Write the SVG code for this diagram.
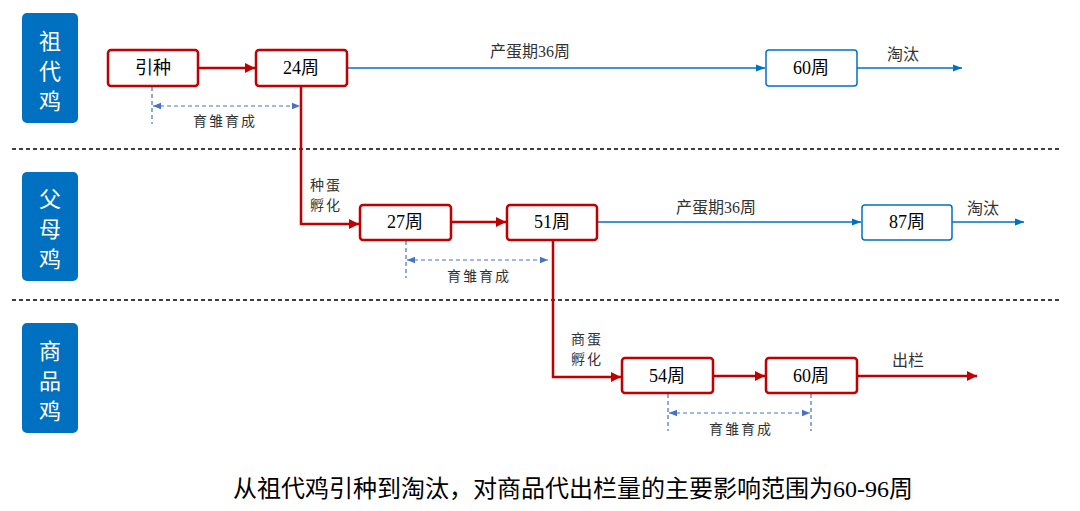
<svg xmlns="http://www.w3.org/2000/svg" width="1080" height="511" viewBox="0 0 1080 511">
<style>
.lbl{fill:#0070C0;}
.lt{font-family:"Liberation Serif","Noto Sans CJK SC",serif;font-size:22px;fill:#fff;text-anchor:middle;}
.rn{fill:#fff;stroke:#C00000;stroke-width:2.5;}
.bn{fill:#fff;stroke:#0070C0;stroke-width:1.5;}
.nt{font-family:"Liberation Serif","Noto Sans CJK SC",serif;font-size:18px;fill:#000;text-anchor:middle;dominant-baseline:central;}
.t{font-family:"Liberation Serif","Noto Sans CJK SC",serif;font-size:14px;fill:#333;text-anchor:middle;}
.t2{font-family:"Liberation Serif","Noto Sans CJK SC",serif;font-size:16px;fill:#333;text-anchor:middle;}
.sp{letter-spacing:2px;}
.red{fill:none;stroke:#C00000;stroke-width:2.5;}
.blue{fill:none;stroke:#0070C0;stroke-width:1.5;}
.dash{fill:none;stroke:#4472C4;stroke-width:1.2;stroke-dasharray:4,3;}
.sep{fill:none;stroke:#000;stroke-width:1.3;stroke-dasharray:4,3;}
</style>
<defs>
<marker id="ar" viewBox="0 0 10 10" refX="10" refY="5" markerWidth="4" markerHeight="4" orient="auto"><path d="M0,0L10,5L0,10z" fill="#C00000"/></marker>
<marker id="ab" viewBox="0 0 10 10" refX="10" refY="5" markerWidth="6" markerHeight="6" orient="auto"><path d="M0,1L10,5L0,9z" fill="#0070C0"/></marker>
<marker id="ad" viewBox="0 0 10 10" refX="10" refY="5" markerWidth="7" markerHeight="7" orient="auto-start-reverse"><path d="M0,1L10,5L0,9z" fill="#4472C4"/></marker>
</defs>
<rect width="1080" height="511" fill="#fff"/>

<g id="separators">
<line class="sep" x1="12" y1="149" x2="1062" y2="149"/>
<line class="sep" x1="12" y1="300" x2="1062" y2="300"/>
</g>

<g id="row-label-1"><rect class="lbl" x="22" y="13" width="56" height="110" rx="5"/>
<text class="lt" x="50" y="49">祖</text><text class="lt" x="50" y="79">代</text><text class="lt" x="50" y="109">鸡</text></g>
<g id="row-label-2"><rect class="lbl" x="22" y="172" width="56" height="109" rx="5"/>
<text class="lt" x="50" y="207">父</text><text class="lt" x="50" y="237">母</text><text class="lt" x="50" y="267">鸡</text></g>
<g id="row-label-3"><rect class="lbl" x="22" y="323" width="56" height="110" rx="5"/>
<text class="lt" x="50" y="359">商</text><text class="lt" x="50" y="389">品</text><text class="lt" x="50" y="419">鸡</text></g>

<g id="connectors">
<line class="red" x1="198" y1="68" x2="255" y2="68" marker-end="url(#ar)"/>
<line class="blue" x1="347" y1="68" x2="765" y2="68" marker-end="url(#ab)"/>
<line class="blue" x1="857" y1="68" x2="962" y2="68" marker-end="url(#ab)"/>
<polyline class="red" points="301,86 301,224 359,224" marker-end="url(#ar)"/>
<line class="red" x1="451" y1="222" x2="506" y2="222" marker-end="url(#ar)"/>
<line class="blue" x1="597" y1="222" x2="861" y2="222" marker-end="url(#ab)"/>
<line class="blue" x1="952" y1="222" x2="1024" y2="222" marker-end="url(#ab)"/>
<polyline class="red" points="553,240 553,377 621,377" marker-end="url(#ar)"/>
<line class="red" x1="713" y1="376" x2="765" y2="376" marker-end="url(#ar)"/>
<line class="red" x1="857" y1="376" x2="977" y2="376" marker-end="url(#ar)"/>
<line class="dash" x1="152" y1="87" x2="152" y2="124"/>
<line class="dash" x1="153" y1="106" x2="300" y2="106" marker-start="url(#ad)" marker-end="url(#ad)"/>
<line class="dash" x1="406" y1="241" x2="406" y2="278"/>
<line class="dash" x1="407" y1="260" x2="548" y2="260" marker-start="url(#ad)" marker-end="url(#ad)"/>
<line class="dash" x1="668" y1="394" x2="668" y2="431"/>
<line class="dash" x1="811" y1="394" x2="811" y2="431"/>
<line class="dash" x1="669" y1="413" x2="810" y2="413" marker-start="url(#ad)" marker-end="url(#ad)"/>
</g>

<g id="n-yinzhong"><rect class="rn" x="108" y="50" width="90" height="36" rx="3"/><text class="nt" x="153" y="68">引种</text></g>
<g id="n-24"><rect class="rn" x="256" y="50" width="91" height="36" rx="3"/><text class="nt" x="301" y="68">24周</text></g>
<g id="n-60a"><rect class="bn" x="766" y="50" width="91" height="36" rx="3"/><text class="nt" x="811" y="68">60周</text></g>
<g id="n-27"><rect class="rn" x="360" y="205" width="91" height="35" rx="3"/><text class="nt" x="405" y="222">27周</text></g>
<g id="n-51"><rect class="rn" x="507" y="205" width="90" height="35" rx="3"/><text class="nt" x="552" y="222">51周</text></g>
<g id="n-87"><rect class="bn" x="862" y="205" width="90" height="35" rx="3"/><text class="nt" x="907" y="222">87周</text></g>
<g id="n-54"><rect class="rn" x="622" y="358" width="91" height="35" rx="3"/><text class="nt" x="667" y="376">54周</text></g>
<g id="n-60b"><rect class="rn" x="766" y="358" width="91" height="35" rx="3"/><text class="nt" x="811" y="376">60周</text></g>

<g id="labels">
<text class="t2" x="530" y="57">产蛋期36周</text>
<text class="t2" x="903" y="60">淘汰</text>
<text class="t sp" x="225" y="126">育雏育成</text>
<text class="t sp" x="326" y="190">种蛋</text>
<text class="t sp" x="326" y="210">孵化</text>
<text class="t2" x="716" y="213">产蛋期36周</text>
<text class="t2" x="983" y="214">淘汰</text>
<text class="t sp" x="479" y="281">育雏育成</text>
<text class="t sp" x="587" y="344">商蛋</text>
<text class="t sp" x="587" y="364">孵化</text>
<text class="t2" x="908" y="366">出栏</text>
<text class="t sp" x="741" y="434">育雏育成</text>
</g>

<text x="573" y="497" font-family="Liberation Serif, Noto Sans CJK SC, serif" font-size="24" fill="#000" text-anchor="middle">从祖代鸡引种到淘汰，对商品代出栏量的主要影响范围为60-96周</text>
</svg>
